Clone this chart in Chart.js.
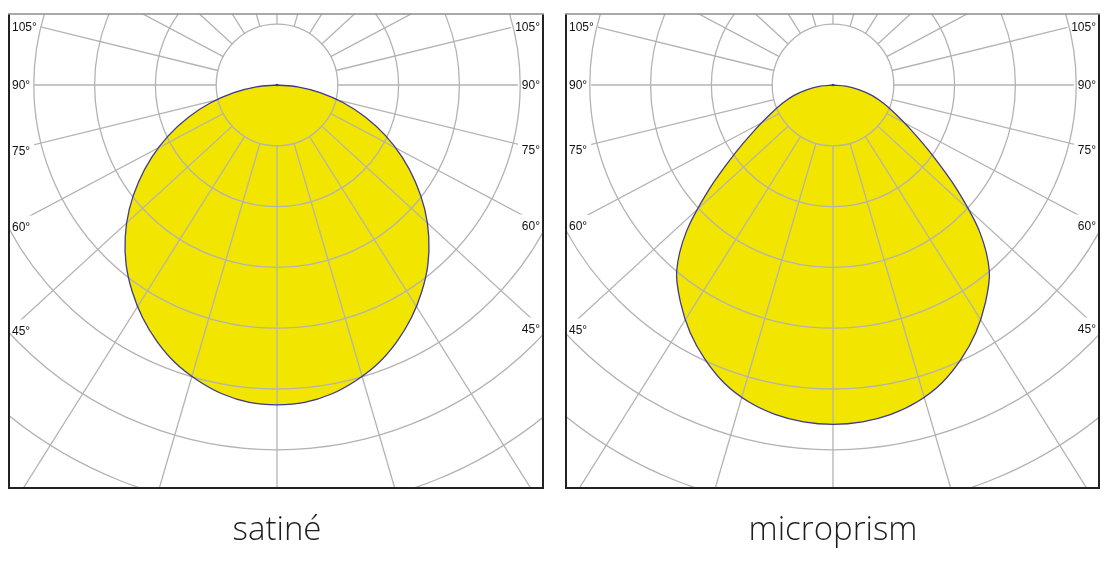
<!DOCTYPE html>
<html>
<head>
<meta charset="utf-8">
<script src="https://cdn.jsdelivr.net/npm/chart.js@4.4.1/dist/chart.umd.min.js"></script>
<style>
  html, body { margin: 0; padding: 0; background: #ffffff; width: 1114px; height: 564px; overflow: hidden; }
  .panel { position: absolute; top: 0; width: 557px; height: 564px; }
  canvas { display: block; }
</style>
</head>
<body>
<div class="panel" style="left:0px"><canvas id="c1" width="557" height="564" style="width:557px;height:564px"></canvas></div>
<div class="panel" style="left:557px"><canvas id="c2" width="557" height="564" style="width:557px;height:564px"></canvas></div>
<script>
// ---- data (half profile, symmetric plane; angle from nadir in degrees) ----
const ANGLES = [0, 5, 10, 15, 20, 25, 30, 35, 40, 45, 50, 55, 60, 65, 70, 75, 80, 85, 90];
const SATINE = [526, 524, 516, 503, 487, 466, 442, 415, 386, 353, 317, 278, 238, 197, 155, 113, 72, 34, 0];
const MICROPRISM = [558, 556, 550, 539, 522, 498, 470, 437, 400, 341, 265, 198, 149, 114, 89, 67, 43, 21, 0];
const TITLES = ['satiné', 'microprism'];

// ---- grid definition ----
const RINGS = [100, 200, 300, 400, 500, 600, 700, 800, 900, 1000];
const GRID_ANGLES = [0, 15, 30, 45, 60, 75, 90, 105, 120, 135, 150, 165, 180, 195, 210, 225, 240, 255, 270, 285, 300, 315, 330, 345];
const EDGE_LABEL_ANGLES = [105, 90, 75, 60, 45];
const EDGE_LABELS = ['105°', '90°', '75°', '60°', '45°'];

const LINE_STRETCH = 1.09;   // radial lines of the original are drawn slightly flattened
const FILL_COLOR = '#f2e500';
const OUTLINE_COLOR = '#3f3a8c';
const GRID_COLOR = '#b3b3b3';

function profilePoints(values) {
  const pts = [];
  for (let i = ANGLES.length - 1; i >= 0; i--) {
    const a = ANGLES[i] * Math.PI / 180;
    pts.push({ x: -values[i] * Math.sin(a), y: -values[i] * Math.cos(a) });
  }
  for (let i = 1; i < ANGLES.length; i++) {
    const a = ANGLES[i] * Math.PI / 180;
    pts.push({ x: values[i] * Math.sin(a), y: -values[i] * Math.cos(a) });
  }
  return pts;
}

function lineDir(angleDeg) {
  const a = angleDeg * Math.PI / 180;
  const dx = LINE_STRETCH * Math.sin(a), dy = -Math.cos(a);
  const n = Math.hypot(dx, dy);
  return { x: dx / n, y: dy / n };
}

const polarGrid = {
  id: 'polarGrid',
  afterDatasetDraw(chart, args, opts) {
    if (args.index !== 2) return;
    const ctx = chart.ctx, area = chart.chartArea;
    const xs = chart.scales.x, ys = chart.scales.y;
    const cx = xs.getPixelForValue(0), cy = ys.getPixelForValue(0);
    ctx.save();
    ctx.font = '12px "Liberation Sans", Arial, sans-serif';
    const labels = [];
    EDGE_LABEL_ANGLES.forEach((ang, i) => {
      const d = lineDir(ang);
      [-1, 1].forEach(side => {
        const px = xs.getPixelForValue(side * d.x * 1000) - cx;
        const py = ys.getPixelForValue(d.y * 1000) - cy;
        const edgeX = side < 0 ? area.left : area.right;
        const t = (edgeX - cx) / px;
        let y = cy + t * py;
        y = Math.max(area.top + 13, Math.min(area.bottom - 13, y));
        const w = ctx.measureText(EDGE_LABELS[i]).width;
        const tx = side < 0 ? area.left + 3 : area.right - 3;
        const rx0 = side < 0 ? area.left : area.right - 3 - w - 4;
        labels.push({ text: EDGE_LABELS[i], side, tx, y, rect: [rx0, y - 11.5, w + 7, 23] });
      });
    });
    chart.$edgeLabels = labels;

    // rings
    ctx.beginPath();
    ctx.rect(area.left, area.top, area.right - area.left, area.bottom - area.top);
    ctx.clip();
    ctx.strokeStyle = GRID_COLOR;
    ctx.lineWidth = 1.3;
    RINGS.forEach(r => {
      const rx = xs.getPixelForValue(r) - cx;
      const ry = cy - ys.getPixelForValue(r);
      ctx.beginPath();
      ctx.ellipse(cx, cy, rx, ry, 0, 0, Math.PI * 2);
      ctx.stroke();
    });
    // radial lines (cut out where edge labels sit)
    ctx.save();
    ctx.beginPath();
    ctx.rect(area.left, area.top, area.right - area.left, area.bottom - area.top);
    labels.forEach(l => ctx.rect(l.rect[0], l.rect[1], l.rect[2], l.rect[3]));
    ctx.clip('evenodd');
    GRID_ANGLES.forEach(ang => {
      const d = lineDir(ang);
      const r0 = RINGS[0], r1 = RINGS[RINGS.length - 1] * 1.5;
      ctx.beginPath();
      ctx.moveTo(xs.getPixelForValue(d.x * r0), ys.getPixelForValue(d.y * r0));
      ctx.lineTo(xs.getPixelForValue(d.x * r1), ys.getPixelForValue(d.y * r1));
      ctx.stroke();
    });
    ctx.restore();
    ctx.restore();
  },
  afterDraw(chart, args, opts) {
    const ctx = chart.ctx, area = chart.chartArea;
    const xs = chart.scales.x;
    const cx = xs.getPixelForValue(0);
    ctx.save();
    ctx.font = '12px "Liberation Sans", Arial, sans-serif';
    ctx.fillStyle = '#111';
    ctx.textBaseline = 'middle';
    (chart.$edgeLabels || []).forEach(l => {
      ctx.textAlign = l.side < 0 ? 'left' : 'right';
      ctx.fillText(l.text, l.tx, l.y + 0.5);
    });
    // frame
    ctx.lineWidth = 2;
    ctx.strokeStyle = '#222';
    ctx.beginPath();
    ctx.moveTo(area.left, area.top);
    ctx.lineTo(area.left, area.bottom);
    ctx.lineTo(area.right, area.bottom);
    ctx.lineTo(area.right, area.top);
    ctx.stroke();
    ctx.lineWidth = 1.5;
    ctx.strokeStyle = '#8c8c8c';
    ctx.beginPath();
    ctx.moveTo(area.left - 1, area.top);
    ctx.lineTo(area.right + 1, area.top);
    ctx.stroke();
    // title
    ctx.font = '300 33px "Open Sans", sans-serif';
    ctx.fillStyle = '#1e1e1e';
    ctx.textAlign = 'center';
    ctx.textBaseline = 'alphabetic';
    ctx.fillText(opts.title, cx, 540);
    ctx.restore();
  }
};

function makeChart(id, values, title, pad, xmin, xmax) {
  const pts = profilePoints(values);
  return new Chart(document.getElementById(id), {
    type: 'line',
    data: {
      datasets: [
        { data: [{ x: 0, y: 0 }], showLine: false, pointRadius: 1.6, pointStyle: 'rect',
          pointBackgroundColor: OUTLINE_COLOR, pointBorderWidth: 0, order: 0 },
        { data: pts, borderColor: OUTLINE_COLOR, borderWidth: 1.3, pointRadius: 0,
          fill: false, tension: 0.33, order: 1 },
        { data: pts, borderWidth: 0, borderColor: 'rgba(0,0,0,0)', backgroundColor: FILL_COLOR,
          pointRadius: 0, fill: 'shape', tension: 0.33, order: 2 }
      ]
    },
    options: {
      responsive: false,
      maintainAspectRatio: false,
      animation: false,
      layout: { padding: pad },
      scales: {
        x: { type: 'linear', min: xmin, max: xmax, display: false },
        y: { type: 'linear', min: -662.8, max: 116.8, display: false }
      },
      plugins: {
        legend: { display: false },
        tooltip: { enabled: false },
        polarGrid: { title: title }
      }
    },
    plugins: [polarGrid]
  });
}

makeChart('c1', SATINE, TITLES[0], { left: 9, top: 14, right: 14, bottom: 76 }, -440.8, 437.5);
makeChart('c2', MICROPRISM, TITLES[1], { left: 9, top: 14, right: 15, bottom: 76 }, -439.1, 437.5);
</script>
</body>
</html>
